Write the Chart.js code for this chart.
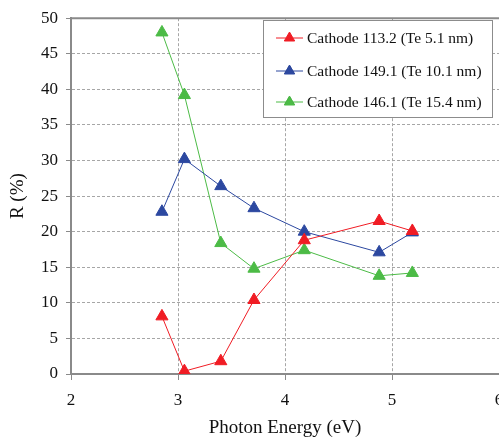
<!DOCTYPE html>
<html>
<head>
<meta charset="utf-8">
<script src="https://cdn.jsdelivr.net/npm/chart.js@4/dist/chart.umd.min.js"></script>
<style>
  html, body { margin: 0; padding: 0; background: #fff; overflow: hidden; }
  #wrap { position: relative; width: 520px; height: 443px; }
</style>
</head>
<body>
<div id="wrap"><canvas id="chart" width="520" height="443"></canvas></div>
<script>
const photonEnergy = [2.85, 3.06, 3.40, 3.71, 4.18, 4.88, 5.19];
const cathode1132 = [8.1, 0.4, 1.8, 10.4, 18.8, 21.5, 20.1];
const cathode1491 = [22.8, 30.2, 26.4, 23.3, 20.0, 17.1, 19.9];
const cathode1461 = [48.0, 39.2, 18.4, 14.8, 17.4, 13.8, 14.2];
const seriesLabels = ['Cathode 113.2 (Te 5.1 nm)', 'Cathode 149.1 (Te 10.1 nm)', 'Cathode 146.1 (Te 15.4 nm)'];
const seriesColors = ['#f01c24', '#2c48a0', '#4cbb46'];

const FONT = '"Liberation Serif", "Times New Roman", serif';

function toPoints(ys) {
    return ys.map((y, i) => ({ x: photonEnergy[i], y }));
}

function makeDataset(label, ys, color) {
    return {
        label,
        data: toPoints(ys),
        showLine: true,
        borderColor: color,
        backgroundColor: color,
        borderWidth: 1,
        pointStyle: 'triangle',
        pointRadius: 7,
        pointBorderWidth: 1,
        pointBackgroundColor: color,
        pointBorderColor: color,
    };
}

// frame line on top + boxed legend inside the plot
const framePlugin = {
    id: 'frame',
    beforeDatasetsDraw(chart) {
        const { ctx, chartArea } = chart;
        ctx.save();
        ctx.strokeStyle = '#8a8a8a';
        ctx.lineWidth = 2;
        ctx.beginPath();
        ctx.moveTo(chartArea.left, chartArea.top);
        ctx.lineTo(chartArea.right, chartArea.top);
        ctx.stroke();
        ctx.restore();
    },
    afterDraw(chart) {
        const { ctx } = chart;
        const box = { x: 263.5, y: 20.5, w: 229, h: 97 };
        ctx.save();
        ctx.fillStyle = '#fff';
        ctx.fillRect(box.x, box.y, box.w, box.h);
        ctx.strokeStyle = '#8c8c8c';
        ctx.lineWidth = 1;
        ctx.strokeRect(box.x, box.y, box.w, box.h);
        const rows = [38, 71, 102];
        chart.data.datasets.forEach((ds, i) => {
            const y = rows[i];
            ctx.strokeStyle = ds.borderColor;
            ctx.lineWidth = 1;
            ctx.beginPath();
            ctx.moveTo(276, y);
            ctx.lineTo(303, y);
            ctx.stroke();
            Chart.helpers.drawPoint(ctx, {
                pointStyle: 'triangle', radius: 6, borderWidth: 1, rotation: 0,
            }, 289.5, y);
            ctx.fillStyle = ds.borderColor;
            ctx.fill();
            ctx.fillStyle = '#111';
            ctx.font = '15.5px ' + FONT;
            ctx.textBaseline = 'middle';
            ctx.textAlign = 'left';
            ctx.fillText(ds.label, 307, y + 1);
        });
        ctx.restore();
    },
};

new Chart(document.getElementById('chart'), {
    type: 'scatter',
    data: {
        datasets: [
            makeDataset(seriesLabels[0], cathode1132, seriesColors[0]),
            makeDataset(seriesLabels[1], cathode1491, seriesColors[1]),
            makeDataset(seriesLabels[2], cathode1461, seriesColors[2]),
        ],
    },
    options: {
        responsive: false,
        animation: false,
        layout: { padding: { top: 14, right: 21, left: 0, bottom: 0 } },
        plugins: { legend: { display: false }, tooltip: { enabled: false } },
        scales: {
            x: {
                type: 'linear',
                min: 2,
                max: 6,
                ticks: { stepSize: 1, color: '#111', padding: 10, font: { family: FONT, size: 17 } },
                grid: { color: '#a6a6a6', tickLength: 6, tickColor: '#8a8a8a' },
                border: { color: '#8a8a8a', width: 2, dash: [3, 2] },
                title: { display: true, text: 'Photon Energy (eV)', color: '#111', font: { family: FONT, size: 19 }, padding: { top: 4, bottom: 4 } },
                afterFit(scale) { scale.height = 69; },
            },
            y: {
                min: 0,
                max: 50,
                ticks: { stepSize: 5, color: '#111', padding: 8, font: { family: FONT, size: 17 } },
                grid: { color: '#a6a6a6', tickLength: 5, tickColor: '#8a8a8a' },
                border: { color: '#8a8a8a', width: 2, dash: [3, 2] },
                title: { display: true, text: 'R (%)', color: '#111', font: { family: FONT, size: 19 }, padding: { top: 7, bottom: 4 } },
                afterFit(scale) { scale.width = 71; },
            },
        },
    },
    plugins: [framePlugin],
});
</script>
</body>
</html>
